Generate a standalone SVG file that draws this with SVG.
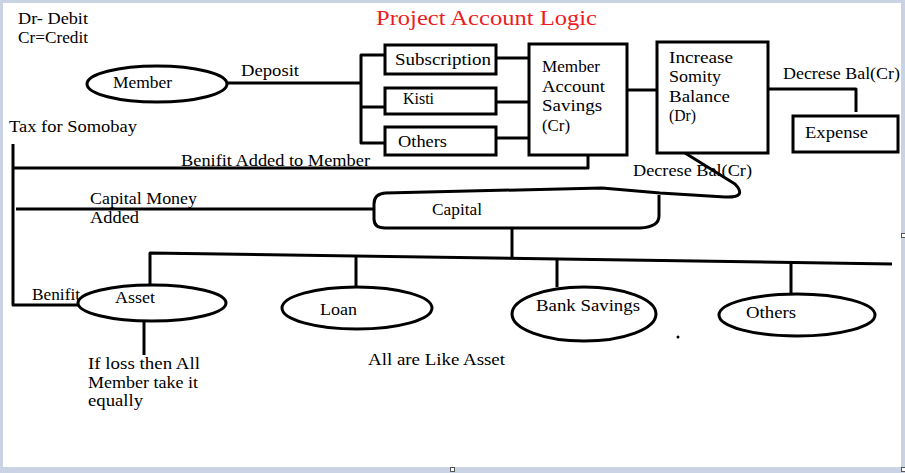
<svg xmlns="http://www.w3.org/2000/svg" width="905" height="473" viewBox="0 0 905 473">
<style>
.ln{fill:none;stroke:#000;stroke-width:3;stroke-linejoin:round}
.bx{fill:#fff;stroke:#000;stroke-width:3}
.t{font-family:"Liberation Serif","DejaVu Serif",serif;font-size:16px;fill:#000}
.title{font-family:"Liberation Serif","DejaVu Serif",serif;font-size:22px;fill:#ed1c24}
.hd{fill:#fff;stroke:#555;stroke-width:1}
</style>
<rect x="0" y="0" width="905" height="473" fill="#cad3e4"/>
<rect x="3" y="3" width="898" height="464" fill="#fff"/>
<rect class="hd" x="450.5" y="467.5" width="4" height="4"/>
<rect class="hd" x="901.5" y="467.5" width="4" height="4"/>
<rect class="hd" x="901.5" y="233.5" width="4" height="4"/>

<g id="legend">
<text class="t" x="18" y="24" textLength="70" lengthAdjust="spacingAndGlyphs">Dr- Debit</text>
<text class="t" x="18" y="43" textLength="70" lengthAdjust="spacingAndGlyphs">Cr=Credit</text>
</g>
<g id="title"><text class="title" x="376" y="25" textLength="221" lengthAdjust="spacingAndGlyphs">Project Account Logic</text></g>

<g id="connectors">
<path class="ln" d="M228,83 L361,83"/>
<path class="ln" d="M385,55 L361,55 L361,143 L385,143 M361,107 L385,107"/>
<path class="ln" d="M496,58 L529,58 M497,102 L529,102 M497,138 L529,138"/>
<path class="ln" d="M627,90 L657,90"/>
<path class="ln" d="M768,89 L856,89 L856,112"/>
<path class="ln" d="M588,155 L588,168 L13,168"/>
<path class="ln" d="M13,144 L13,305 L78,305"/>
<path class="ln" d="M16,209 L373,209"/>
<path class="ln" d="M685,153 L735,184 Q748,198 725,197 L660,193 L602,188 L385,193"/>
<path class="ln" d="M512,228 L512,258"/>
<path class="ln" d="M150,285 L150,253 L892,264"/>
<path class="ln" d="M356,256 L356,287 M557,260 L557,287 M791,263 L791,294"/>
<path class="ln" d="M144,322 L144,355"/>
</g>

<g id="member">
<ellipse class="bx" cx="157" cy="84" rx="70" ry="18"/>
<text class="t" x="113" y="88" textLength="59" lengthAdjust="spacingAndGlyphs">Member</text>
</g>
<g id="deposit-label"><text class="t" x="241" y="76" textLength="58" lengthAdjust="spacingAndGlyphs">Deposit</text></g>
<g id="subscription">
<rect class="bx" x="385" y="45" width="111" height="29"/>
<text class="t" x="395" y="65" textLength="96" lengthAdjust="spacingAndGlyphs">Subscription</text>
</g>
<g id="kisti">
<rect class="bx" x="385" y="88" width="111" height="26"/>
<text class="t" x="403" y="104" textLength="31" lengthAdjust="spacingAndGlyphs">Kisti</text>
</g>
<g id="others-top">
<rect class="bx" x="385" y="127" width="111" height="28"/>
<text class="t" x="398" y="147" textLength="49" lengthAdjust="spacingAndGlyphs">Others</text>
</g>
<g id="member-account">
<rect class="bx" x="529" y="44" width="98" height="111"/>
<text class="t" x="542" y="72" textLength="58" lengthAdjust="spacingAndGlyphs">Member</text>
<text class="t" x="542" y="92" textLength="63" lengthAdjust="spacingAndGlyphs">Account</text>
<text class="t" x="542" y="111" textLength="60" lengthAdjust="spacingAndGlyphs">Savings</text>
<text class="t" x="542" y="131" textLength="28" lengthAdjust="spacingAndGlyphs">(Cr)</text>
</g>
<g id="increase">
<rect class="bx" x="657" y="42" width="111" height="111"/>
<text class="t" x="669" y="63" textLength="64" lengthAdjust="spacingAndGlyphs">Increase</text>
<text class="t" x="669" y="82" textLength="52" lengthAdjust="spacingAndGlyphs">Somity</text>
<text class="t" x="669" y="102" textLength="61" lengthAdjust="spacingAndGlyphs">Balance</text>
<text class="t" x="669" y="121" textLength="27" lengthAdjust="spacingAndGlyphs">(Dr)</text>
</g>
<g id="decrease-label-top"><text class="t" x="783" y="79" textLength="117" lengthAdjust="spacingAndGlyphs">Decrese Bal(Cr)</text></g>
<g id="expense">
<rect class="bx" x="793" y="116" width="105" height="36"/>
<text class="t" x="805" y="138" textLength="63" lengthAdjust="spacingAndGlyphs">Expense</text>
</g>
<g id="labels">
<text class="t" x="9" y="132" textLength="128" lengthAdjust="spacingAndGlyphs">Tax for Somobay</text>
<text class="t" x="181" y="166" textLength="189" lengthAdjust="spacingAndGlyphs">Benifit Added to Member</text>
<text class="t" x="90" y="204" textLength="107" lengthAdjust="spacingAndGlyphs">Capital Money</text>
<text class="t" x="90" y="223" textLength="49" lengthAdjust="spacingAndGlyphs">Added</text>
<text class="t" x="633" y="176" textLength="119" lengthAdjust="spacingAndGlyphs">Decrese Bal(Cr)</text>
<text class="t" x="32" y="300" textLength="48" lengthAdjust="spacingAndGlyphs">Benifit</text>
<text class="t" x="88" y="369" textLength="112" lengthAdjust="spacingAndGlyphs">If loss then All</text>
<text class="t" x="88" y="388" textLength="110" lengthAdjust="spacingAndGlyphs">Member take it</text>
<text class="t" x="88" y="406" textLength="55" lengthAdjust="spacingAndGlyphs">equally</text>
<text class="t" x="368" y="365" textLength="137" lengthAdjust="spacingAndGlyphs">All are Like Asset</text>
</g>
<g id="capital">
<path class="ln" d="M385,193 Q374,194 374,204 L374,219 Q374,228 385,228 L640,228 Q659,227 659,216 L659,195"/>
<text class="t" x="432" y="215" textLength="50" lengthAdjust="spacingAndGlyphs">Capital</text>
</g>
<g id="asset">
<ellipse class="bx" cx="152" cy="303" rx="74" ry="18"/>
<text class="t" x="115" y="303" textLength="40" lengthAdjust="spacingAndGlyphs">Asset</text>
</g>
<g id="loan">
<ellipse class="bx" cx="357" cy="308" rx="75" ry="21"/>
<text class="t" x="320" y="315" textLength="37" lengthAdjust="spacingAndGlyphs">Loan</text>
</g>
<g id="bank-savings">
<ellipse class="bx" cx="584" cy="314" rx="72" ry="27"/>
<text class="t" x="536" y="311" textLength="104" lengthAdjust="spacingAndGlyphs">Bank Savings</text>
</g>
<g id="others-bottom">
<ellipse class="bx" cx="797" cy="315" rx="78" ry="21"/>
<text class="t" x="746" y="318" textLength="50" lengthAdjust="spacingAndGlyphs">Others</text>
</g>
<circle cx="678" cy="337" r="1.5" fill="#000"/>
</svg>
